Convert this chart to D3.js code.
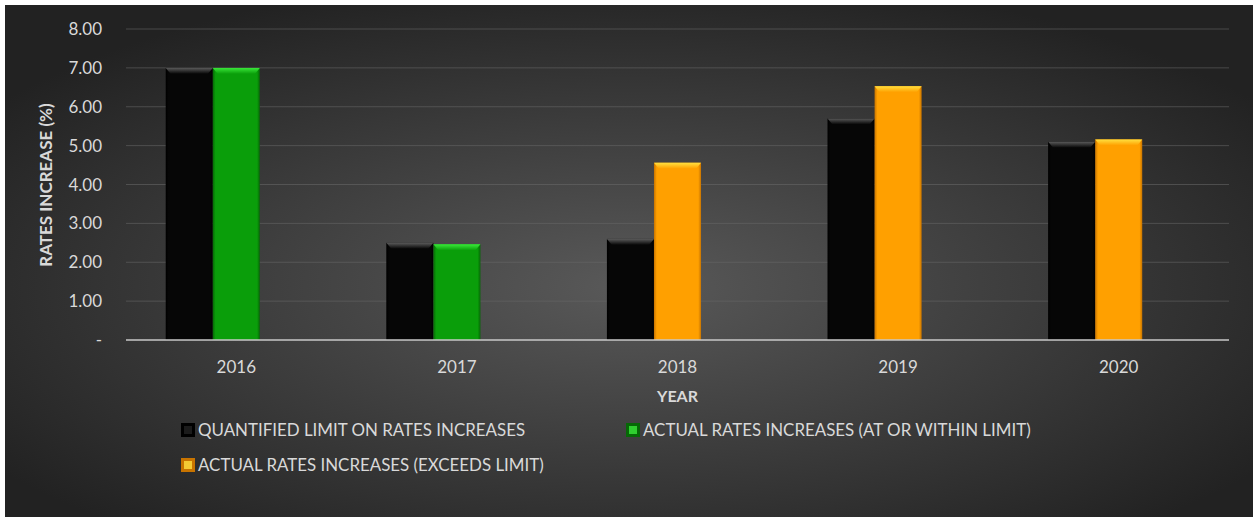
<!DOCTYPE html>
<html>
<head>
<meta charset="utf-8">
<script src="https://cdn.jsdelivr.net/npm/d3@7"></script>
<style>
body { margin: 0; background: #ffffff; }
text { font-family: Lato, "Open Sans", sans-serif; }
</style>
</head>
<body>
<svg id="chart" width="1253" height="517"></svg>
<script>
var years = ['2016', '2017', '2018', '2019', '2020']
var limit_values = [7.0, 2.5, 2.6, 5.7, 5.1]
var actual_values = [7.0, 2.46, 4.56, 6.53, 5.16]
var y_ticks = [0, 1, 2, 3, 4, 5, 6, 7, 8]
var legend_labels = ['QUANTIFIED LIMIT ON RATES INCREASES',
    'ACTUAL RATES INCREASES (AT OR WITHIN LIMIT)',
    'ACTUAL RATES INCREASES (EXCEEDS LIMIT)']

var width = 1253, height = 517
var margin = { left: 126, right: 24, top: 29, bottom: 177 }

var svg = d3.select('#chart')
var defs = svg.append('defs')

// background
var bg = defs.append('radialGradient').attr('id', 'bg')
    .attr('cx', '0.5').attr('cy', '0.55').attr('r', '0.62')
bg.append('stop').attr('offset', '0%').attr('stop-color', '#595959')
bg.append('stop').attr('offset', '100%').attr('stop-color', '#222222')

svg.append('rect')
    .attr('x', 5).attr('y', 5)
    .attr('width', width - 5).attr('height', height - 5)
    .attr('fill', 'url(#bg)')

// colours: [fill, edge, highlight]
var colors = {
    limit: ['#060606', '#000000', '#5a5a5a'],
    within: ['#0a9e0a', '#066806', '#3ae83a'],
    exceeds: ['#ffa000', '#c87400', '#ffe040']
}

Object.keys(colors).forEach(function (k) {
    var g = defs.append('linearGradient').attr('id', 'cap_' + k)
        .attr('x1', 0).attr('y1', 0).attr('x2', 0).attr('y2', 1)
    g.append('stop').attr('offset', '0%').attr('stop-color', colors[k][2])
    g.append('stop').attr('offset', '100%').attr('stop-color', colors[k][0])
    var h = defs.append('linearGradient').attr('id', 'side_' + k)
        .attr('x1', 0).attr('y1', 0).attr('x2', 1).attr('y2', 0)
    h.append('stop').attr('offset', '0%').attr('stop-color', colors[k][1])
    h.append('stop').attr('offset', '6%').attr('stop-color', colors[k][0])
    h.append('stop').attr('offset', '94%').attr('stop-color', colors[k][0])
    h.append('stop').attr('offset', '100%').attr('stop-color', colors[k][1])
})

var x = d3.scaleBand()
    .domain(years)
    .range([margin.left, width - margin.right])
    .paddingInner(0.36)
    .paddingOuter(0.18)

// three slots per year, the third one stays empty
var x1 = d3.scaleBand()
    .domain([0, 1, 2])
    .range([0, x.bandwidth()])

var y = d3.scaleLinear()
    .domain([0, 8])
    .range([height - margin.bottom, margin.top])

// grid
svg.append('g')
    .selectAll('line')
    .data(y_ticks.slice(1))
    .enter().append('line')
    .attr('x1', margin.left).attr('x2', width - margin.right)
    .attr('y1', (d) => y(d)).attr('y2', (d) => y(d))
    .attr('stroke', '#6a6a6a').attr('stroke-opacity', 0.55)
    .attr('stroke-width', 1)

// y labels
svg.append('g')
    .selectAll('text')
    .data(y_ticks)
    .enter().append('text')
    .attr('x', 102)
    .attr('y', (d) => y(d) + 6)
    .attr('text-anchor', 'end')
    .attr('fill', '#d9d9d9')
    .style('font-size', '17px')
    .text((d) => d == 0 ? '-' : d.toFixed(2))

// bars
var bar_data = []
years.forEach(function (yr, i) {
    bar_data.push({ year: yr, slot: 0, value: limit_values[i], kind: 'limit' })
    bar_data.push({
        year: yr, slot: 1, value: actual_values[i],
        kind: actual_values[i] > limit_values[i] ? 'exceeds' : 'within'
    })
})

var bars = svg.append('g')
    .selectAll('g')
    .data(bar_data)
    .enter().append('g')
    .attr('transform', (d) => 'translate(' + (x(d.year) + x1(d.slot)) + ',0)')

var bw = x1.bandwidth()

bars.append('rect')
    .attr('x', 0)
    .attr('y', (d) => y(d.value))
    .attr('width', bw)
    .attr('height', (d) => y(0) - y(d.value))
    .attr('fill', (d) => 'url(#side_' + d.kind + ')')

bars.append('path')
    .attr('d', (d) => {
        var t = y(d.value)
        return 'M0,' + t + 'L' + bw + ',' + t + 'L' + (bw - 5) + ',' + (t + 6) + 'L5,' + (t + 6) + 'Z'
    })
    .attr('fill', (d) => 'url(#cap_' + d.kind + ')')

// axis line
svg.append('line')
    .attr('x1', margin.left).attr('x2', width - margin.right)
    .attr('y1', y(0)).attr('y2', y(0))
    .attr('stroke', '#c8c8c8').attr('stroke-width', 1.5)

// x labels
svg.append('g')
    .selectAll('text')
    .data(years)
    .enter().append('text')
    .attr('x', (d) => x(d) + x.bandwidth() / 2)
    .attr('y', 373)
    .attr('text-anchor', 'middle')
    .attr('fill', '#d9d9d9')
    .style('font-size', '17px')
    .text((d) => d)

// axis titles
svg.append('text')
    .attr('x', (margin.left + width - margin.right) / 2)
    .attr('y', 402)
    .attr('text-anchor', 'middle')
    .attr('fill', '#d9d9d9')
    .style('font-size', '16px')
    .style('font-weight', 'bold')
    .text('YEAR')

svg.append('text')
    .attr('transform', 'translate(52,' + 185 + ') rotate(-90)')
    .attr('text-anchor', 'middle')
    .attr('fill', '#d9d9d9')
    .style('font-size', '17px')
    .style('font-weight', 'bold')
    .text('RATES INCREASE (%)')

// legend
var legend_pos = [[181, 430], [626, 430], [181, 465]]
var legend_kind = ['limit', 'within', 'exceeds']

var legend = svg.append('g')
    .selectAll('g')
    .data(legend_labels)
    .enter().append('g')
    .attr('transform', (d, i) => 'translate(' + legend_pos[i][0] + ',' + legend_pos[i][1] + ')')

legend.append('rect')
    .attr('x', 0).attr('y', -7)
    .attr('width', 14).attr('height', 14)
    .attr('fill', (d, i) => colors[legend_kind[i]][1])

legend.append('rect')
    .attr('x', 3).attr('y', -4)
    .attr('width', 8).attr('height', 8)
    .attr('fill', (d, i) => colors[legend_kind[i]][2])
    .attr('opacity', (d, i) => i == 0 ? 0.3 : 0.8)

legend.append('text')
    .attr('x', 17)
    .attr('y', 6)
    .attr('fill', '#d9d9d9')
    .style('font-size', '16.9px')
    .text((d) => d)
</script>
</body>
</html>
